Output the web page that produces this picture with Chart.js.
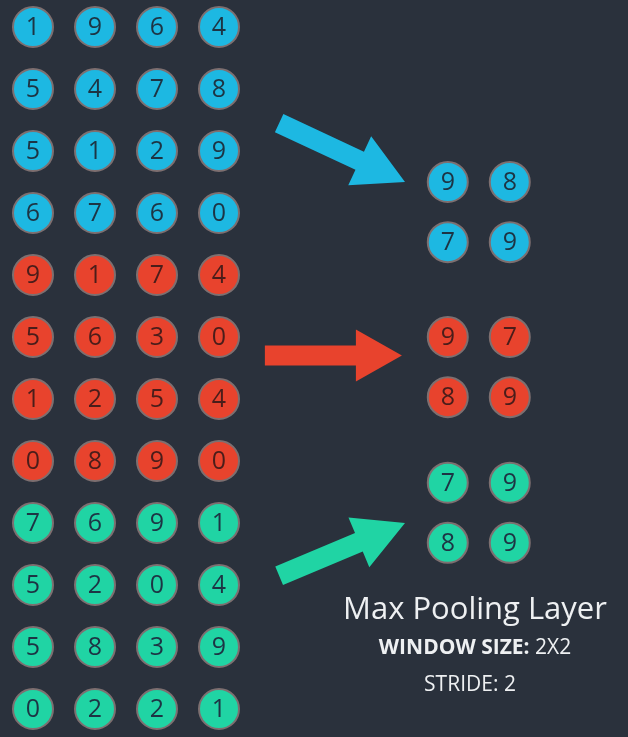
<!DOCTYPE html>
<html><head><meta charset="utf-8">
<script src="https://cdn.jsdelivr.net/npm/chart.js@4"></script>
<style>html,body{margin:0;padding:0;background:#2a313c;}#wrap{width:628px;height:737px;}</style>
</head><body><div id="wrap"><canvas id="c"></canvas></div>
<script>
const inputRows = [
  [1,9,6,4],[5,4,7,8],[5,1,2,9],[6,7,6,0],
  [9,1,7,4],[5,6,3,0],[1,2,5,4],[0,8,9,0],
  [7,6,9,1],[5,2,0,4],[5,8,3,9],[0,2,2,1]
];
const pooled = [ [[9,8],[7,9]], [[9,7],[8,9]], [[7,9],[8,9]] ];
const groupColors = ['#1db8e2','#e8432d','#20d4a4'];
const groupNames = ['blue','red','green'];
const pooledRowBase = [2.5, 5.0, 7.35];
const pooledColBase = 6.69;

const datasets = [];
for (let g=0; g<3; g++){
  const pts=[];
  for (let r=g*4; r<g*4+4; r++) for (let c=0;c<4;c++) pts.push({x:c,y:r,v:inputRows[r][c]});
  for (let r=0;r<2;r++) for (let c=0;c<2;c++) pts.push({x:pooledColBase+c,y:pooledRowBase[g]+r*0.97,v:pooled[g][r][c]});
  datasets.push({label:groupNames[g],data:pts,backgroundColor:groupColors[g],borderColor:'#7d6f70',borderWidth:2,pointRadius:20,pointHoverRadius:20,clip:false});
}

const deco = {
  id:'deco',
  afterDatasetsDraw(chart){
    const {ctx,scales:{x,y}}=chart;
    ctx.save();
    function arrow(x1,y1,x2,y2,col,w,hl,hw){
      const px1=x.getPixelForValue(x1),py1=y.getPixelForValue(y1),px2=x.getPixelForValue(x2),py2=y.getPixelForValue(y2);
      const a=Math.atan2(py2-py1,px2-px1),len=Math.hypot(px2-px1,py2-py1);
      ctx.translate(px1,py1);ctx.rotate(a);ctx.fillStyle=col;ctx.beginPath();
      ctx.moveTo(0,-w/2);ctx.lineTo(len-hl,-w/2);ctx.lineTo(len-hl,-hw/2);ctx.lineTo(len,0);
      ctx.lineTo(len-hl,hw/2);ctx.lineTo(len-hl,w/2);ctx.lineTo(0,w/2);ctx.closePath();ctx.fill();
      ctx.setTransform(chart.currentDevicePixelRatio,0,0,chart.currentDevicePixelRatio,0,0);
    }
    arrow(3.97,1.55,6.0,2.5,groupColors[0],20,50,54);
    arrow(3.74,5.3,5.95,5.3,groupColors[1],20,46,52);
    arrow(3.97,8.85,6.0,8.0,groupColors[2],20,50,54);
    chart.data.datasets.forEach((ds,i)=>{
      const meta=chart.getDatasetMeta(i);
      meta.data.forEach((el,j)=>{
        ctx.fillStyle=i===1?'#4a1d1a':'#1d3444';
        ctx.font='25px "Open Sans"';ctx.textAlign='center';ctx.textBaseline='middle';
        ctx.fillText(String(ds.data[j].v),el.x,el.y+1);
      });
    });
    ctx.fillStyle='#eef0f2';ctx.textAlign='center';ctx.textBaseline='middle';
    ctx.font='31px "Open Sans"';ctx.fillText('Max Pooling Layer',475,610);
    ctx.font='bold 21px "Open Sans"';const a='WINDOW SIZE: ';const b='2X2';
    const wa=ctx.measureText(a).width;ctx.font='21px "Open Sans"';const wb=ctx.measureText(b).width;
    const sx=475-(wa+wb)/2;ctx.textAlign='left';
    ctx.font='bold 21px "Open Sans"';ctx.fillText(a,sx,648);
    ctx.font='21px "Open Sans"';ctx.fillText(b,sx+wa,648);
    ctx.textAlign='center';ctx.font='21px "Open Sans"';ctx.fillText('STRIDE: 2',470,685);
    ctx.restore();
  }
};

new Chart(document.getElementById('c'),{
  type:'scatter',
  data:{datasets},
  options:{
    responsive:true,maintainAspectRatio:false,animation:false,
    layout:{padding:0,autoPadding:false},
    plugins:{legend:{display:false},tooltip:{enabled:false}},
    scales:{
      x:{type:'linear',min:-33/62,max:(628-33)/62,display:false},
      y:{type:'linear',min:-27/62,max:(737-27)/62,reverse:true,display:false}
    }
  },
  plugins:[deco]
});
</script></body></html>
